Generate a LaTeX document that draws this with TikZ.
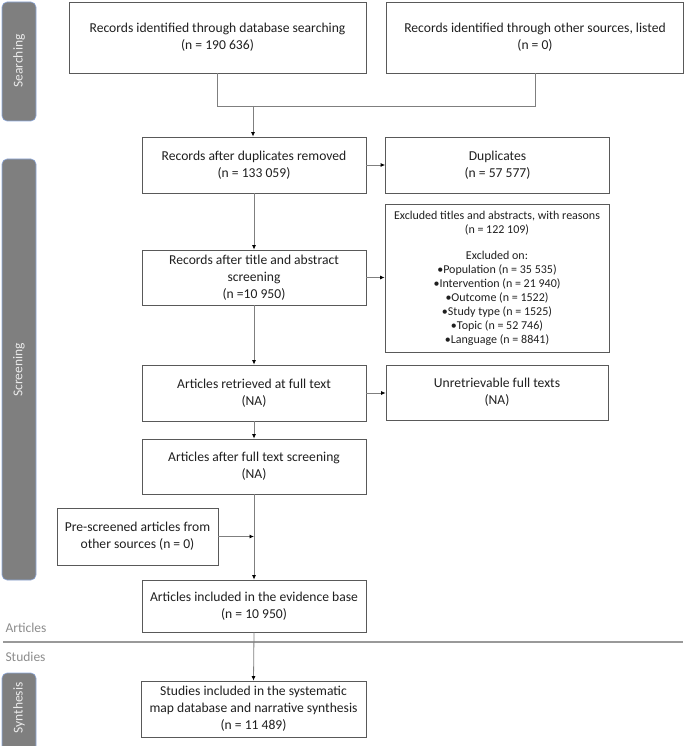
\documentclass[tikz,border=0pt]{standalone}
\usepackage{fontspec}
\setmainfont{Carlito}
\usetikzlibrary{arrows.meta}
\definecolor{boxline}{HTML}{595959}
\definecolor{conn}{HTML}{7F7F7F}
\definecolor{barfill}{HTML}{7F7F7F}
\definecolor{barline}{HTML}{8FAADC}
\definecolor{labgray}{HTML}{8C8C8C}
\tikzset{
  box/.style={draw=boxline, line width=0.8pt, align=center, inner sep=1pt,
    font=\fontsize{13.6}{17}\selectfont, text=black!88},
  exbox/.style={box, font=\fontsize{12}{14}\selectfont},
  conline/.style={draw=conn, line width=0.8pt},
  arr/.style={conline, -{Latex[length=4.5pt,width=4pt,color=black]}},
  bar/.style={fill=barfill, draw=barline, line width=0.6pt, rounded corners=5pt},
  bartext/.style={text=white!92!black, rotate=90, font=\fontsize{13.5}{15}\selectfont},
  sidelab/.style={text=labgray, anchor=west, font=\fontsize{13.5}{15}\selectfont}
}
\begin{document}
\begin{tikzpicture}[x=1pt,y=-1pt]
\useasboundingbox (0,0) rectangle (685,746);

% side bars
\draw[bar] (2,2) rectangle (36,121);
\node[bartext] (lsearch) at (19,61) {Searching};
\draw[bar] (2,159) rectangle (36,580);
\node[bartext] (lscreen) at (19,370) {Screening};
\draw[bar] (2,673) rectangle (36,770);
\node[bartext] (lsynth) at (19,708) {Synthesis};

% articles / studies divider
\node[sidelab] (larticles) at (2,628) {Articles};
\node[sidelab] (lstudies) at (2,657) {Studies};
\draw[draw=black!40, line width=1.8pt] (3,642) -- (683,642);

% boxes
\node[box, minimum width=297pt, minimum height=71pt] (db) at (217.5,37.5)
  {Records identified through database searching\\(n = 190 636)};
\node[box, minimum width=297pt, minimum height=71pt] (other) at (535,37.5)
  {Records identified through other sources, listed\\(n = 0)};
\node[box, minimum width=224pt, minimum height=56pt] (dup) at (254,165)
  {Records after duplicates removed\\(n = 133 059)};
\node[box, minimum width=224pt, minimum height=56pt] (dups) at (497.5,165)
  {Duplicates\\(n = 57 577)};
\node[box, minimum width=224pt, minimum height=55pt] (title) at (254,277.5)
  {Records after title and abstract\\screening\\(n =10 950)};
\node[exbox, minimum width=224pt, minimum height=148pt] (excl) at (497,278)
  {Excluded titles and abstracts, with reasons\\(n = 122 109)\\[12pt]
   Excluded on:\\•Population (n = 35 535)\\•Intervention (n = 21 940)\\
   •Outcome (n = 1522)\\•Study type (n = 1525)\\•Topic (n = 52 746)\\
   •Language (n = 8841)};
\node[box, minimum width=224pt, minimum height=56pt] (retr) at (254,393)
  {Articles retrieved at full text\\(NA)};
\node[box, minimum width=222pt, minimum height=55pt] (unretr) at (497,392.5)
  {Unretrievable full texts\\(NA)};
\node[box, minimum width=224pt, minimum height=55pt] (afterft) at (254,466.5)
  {Articles after full text screening\\(NA)};
\node[box, minimum width=161pt, minimum height=57pt] (pre) at (137.5,536.5)
  {Pre-screened articles from\\other sources (n = 0)};
\node[box, minimum width=224pt, minimum height=52pt] (incl) at (254,606)
  {Articles included in the evidence base\\(n = 10 950)};
\node[box, minimum width=225pt, minimum height=56pt] (studies) at (253.5,709)
  {Studies included in the systematic\\map database and narrative synthesis\\(n = 11 489)};

% connectors
\coordinate (m) at (253,106);
\draw[conline] (db.south) -- (db.south |- m) -- (other.south |- m) -- (other.south);
\draw[arr] (m) -- (dup.north -| m);
\draw[arr] (dup.east) -- (dups.west);
\draw[arr] (dup.south) -- (title.north);
\draw[arr] (title.east) -- (excl.west |- title.east);
\draw[arr] (title.south) -- (retr.north);
\draw[arr] (retr.east) -- (unretr.west |- retr.east);
\draw[arr] (retr.south) -- (afterft.north);
\draw[arr] (afterft.south) -- (incl.north);
\draw[arr] (pre.east) -- (pre.east -| afterft.south);
\draw[arr] (incl.south) -- (studies.north);
\end{tikzpicture}
\end{document}
